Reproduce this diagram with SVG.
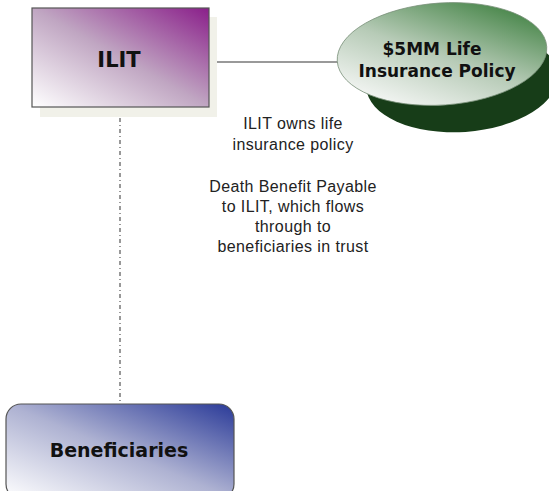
<svg xmlns="http://www.w3.org/2000/svg" width="549" height="491" viewBox="0 0 549 491">
<defs>
<linearGradient id="gPurple" x1="0" y1="1" x2="1" y2="0">
<stop offset="0" stop-color="#ffffff"/>
<stop offset="0.5" stop-color="#c0a6c2"/>
<stop offset="1" stop-color="#8a1f8a"/>
</linearGradient>
<linearGradient id="gBlue" x1="0" y1="1" x2="1" y2="0">
<stop offset="0" stop-color="#ffffff"/>
<stop offset="0.5" stop-color="#aeb2d2"/>
<stop offset="1" stop-color="#2a3a98"/>
</linearGradient>
<linearGradient id="gGreen" x1="0.15" y1="0.9" x2="0.9" y2="0.05">
<stop offset="0" stop-color="#f4f6f4"/>
<stop offset="0.45" stop-color="#b7cbb7"/>
<stop offset="1" stop-color="#3b7e3d"/>
</linearGradient>
<style>
.lbl{font-family:"DejaVu Sans",Verdana,sans-serif;font-weight:bold;fill:#111;text-anchor:middle}
.note{font-family:"Liberation Sans",Arial,sans-serif;font-size:16px;letter-spacing:0.4px;fill:#222;text-anchor:middle}
.conn{stroke:#777;stroke-width:1.5;fill:none}
</style>
</defs>
<g id="connectors">
<line class="conn" x1="217" y1="62" x2="340" y2="62"/>
<line class="conn" x1="120" y1="107" x2="120" y2="404" stroke-width="1.2" stroke="#444" stroke-dasharray="4,3,1,3"/>
</g>
<g id="ilit">
<rect x="40" y="17" width="177" height="100" fill="#f1f1e9"/>
<rect x="32" y="8" width="177" height="99" fill="url(#gPurple)" stroke="#555" stroke-width="1.2"/>
<text class="lbl" x="119" y="67" font-size="21" font-family="Liberation Sans">ILIT</text>
</g>
<g id="policy">
<ellipse cx="462" cy="81" rx="96" ry="51" fill="#173d18" transform="rotate(-4 462 81)"/>
<ellipse cx="442" cy="54" rx="105" ry="51" fill="url(#gGreen)" stroke="#7a907a" stroke-width="0.8" transform="rotate(-4 442 54)"/>
<text class="lbl" x="432" y="55" font-size="17">$5MM Life</text>
<text class="lbl" x="437" y="77" font-size="17">Insurance Policy</text>
</g>
<g id="notes">
<text class="note" x="293" y="129">ILIT owns life</text>
<text class="note" x="293" y="150">insurance policy</text>
<text class="note" x="293" y="192">Death Benefit Payable</text>
<text class="note" x="293" y="212">to ILIT, which flows</text>
<text class="note" x="293" y="232">through to</text>
<text class="note" x="293" y="252">beneficiaries in trust</text>
</g>
<g id="beneficiaries">
<rect x="6" y="404" width="228" height="95" rx="15" fill="url(#gBlue)" stroke="#555" stroke-width="1.2"/>
<text class="lbl" x="119" y="457" font-size="19">Beneficiaries</text>
</g>
</svg>
